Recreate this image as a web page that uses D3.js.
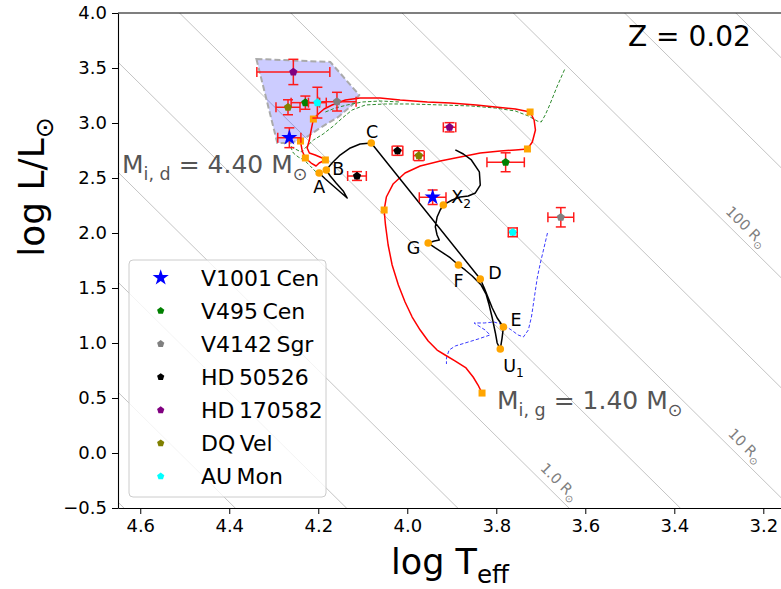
<!DOCTYPE html>
<html>
<head>
<meta charset="utf-8">
<script src="https://cdn.jsdelivr.net/npm/d3@7"></script>
<style>
  body { margin: 0; background: #fff; }
  text { font-family: "DejaVu Sans", sans-serif; }
</style>
</head>
<body>
<svg id="chart" width="781" height="589"></svg>
<script>
// ---------------- data ----------------
const systems = ["V1001\u2009Cen", "V495\u2009Cen", "V4142\u2009Sgr", "HD\u200950526", "HD\u2009170582", "DQ\u2009Vel", "AU\u2009Mon"];

// hot, mass-gaining components
const gainerLogT = [4.265, 4.229, 4.158, 4.113, 4.256, 4.268, 4.202];
const gainerLogL = [2.866, 3.185, 3.194, 2.518, 3.464, 3.143, 3.185];
const gainerErrT = [0.026, 0.032, 0.043, 0.021, 0.082, 0.027, 0.020];
const gainerErrL = [0.090, 0.060, 0.085, 0.040, 0.115, 0.068, 0.140];

// cool, mass-losing components
const donorLogT = [3.943, 3.779, 3.655, 4.022, 3.905, 3.974, 3.763];
const donorLogL = [2.325, 2.643, 2.143, 2.748, 2.961, 2.703, 2.006];
const donorErrT = [0.030, 0.042, 0.029, 0.012, 0.014, 0.012, 0.010];
const donorErrL = [0.066, 0.086, 0.088, 0.042, 0.042, 0.045, 0.040];

// donor track (M_i,d = 4.40)
const donorTrackT = [4.198,4.184,4.166,4.148,4.135,4.144,4.160,4.173,4.182,4.169,4.151,4.128,4.106,4.081,3.836,3.827,3.818,3.809,3.798,3.784,3.787,3.791,3.798,3.802,3.809,3.816,3.823,3.834,3.854,3.870,3.885,3.903,3.919,3.937,3.953,3.939,3.928,3.933,3.937,3.933,3.926,3.919,3.899,3.881,3.863,3.847,3.836,3.838,3.856,3.874,3.892];
const donorTrackL = [2.545,2.491,2.427,2.364,2.318,2.382,2.455,2.518,2.573,2.636,2.709,2.773,2.809,2.818,1.582,1.500,1.409,1.318,1.227,1.145,1.045,0.945,1.000,1.091,1.227,1.345,1.445,1.527,1.609,1.664,1.709,1.773,1.818,1.864,1.909,1.927,1.936,1.982,2.055,2.145,2.209,2.255,2.300,2.327,2.336,2.364,2.436,2.555,2.664,2.718,2.755];

// labelled stages on the donor track
const stageNames = ["A", "B", "C", "D", "E", "U1", "F", "G", "X2"];
const stageT = [4.198, 4.182, 4.081, 3.836, 3.784, 3.791, 3.885, 3.953, 3.919];
const stageL = [2.545, 2.573, 2.818, 1.582, 1.145, 0.945, 1.709, 1.909, 2.255];

// gainer track (M_i,g = 1.40)
const gainerTrackT = [3.832,3.841,3.852,3.868,3.892,3.915,3.933,3.953,3.971,3.989,4.005,4.020,4.034,4.043,4.049,4.052,4.047,4.032,4.005,3.971,3.926,3.881,3.836,3.791,3.757,3.730,3.719,3.712,3.715,3.724,3.757,3.802,3.845,3.903,3.955,4.016,4.061,4.106,4.139,4.169,4.187,4.200,4.211,4.216,4.220,4.225,4.220,4.207,4.191,4.184,4.198,4.205,4.216,4.229,4.236,4.240];
const gainerTrackL = [0.545,0.618,0.691,0.773,0.836,0.891,0.936,1.018,1.118,1.236,1.373,1.527,1.709,1.891,2.073,2.209,2.327,2.445,2.545,2.609,2.655,2.691,2.727,2.745,2.755,2.764,2.827,2.936,3.027,3.100,3.127,3.145,3.164,3.182,3.191,3.209,3.227,3.227,3.209,3.164,3.127,3.082,3.036,2.936,2.845,2.773,2.727,2.709,2.682,2.664,2.636,2.609,2.636,2.682,2.745,2.836];
const gainerMarkT = [3.832, 4.052, 3.730, 3.724, 4.211, 4.184, 4.229, 4.240];
const gainerMarkL = [0.545, 2.209, 2.764, 3.100, 3.036, 2.664, 2.682, 2.836];

// single-star comparison tracks
const singleHighT = [4.205,4.218,4.232,4.245,4.256,4.263,4.252,4.238,4.227,4.211,4.189,4.166,4.146,4.124,4.094,4.049,3.993,3.926,3.858,3.802,3.757,3.728,3.708,3.699,3.690,3.681,3.672,3.663,3.654,3.645];
const singleHighL = [2.555,2.609,2.664,2.691,2.727,2.791,2.764,2.736,2.782,2.845,2.900,2.973,3.045,3.118,3.164,3.173,3.173,3.164,3.155,3.136,3.109,3.064,3.018,3.009,3.073,3.155,3.245,3.336,3.418,3.500];
const singleHighLoopT = [4.184, 4.162, 4.135, 4.101, 4.061, 4.016];
const singleHighLoopL = [3.100, 3.136, 3.164, 3.191, 3.200, 3.191];
const singleLowT = [3.685,3.694,3.701,3.708,3.712,3.717,3.721,3.728,3.739,3.751,3.766,3.784,3.805,3.827,3.850,3.825,3.814,3.841,3.870,3.892,3.906,3.912,3.912];
const singleLowL = [2.000,1.845,1.727,1.591,1.482,1.345,1.236,1.118,1.055,1.073,1.118,1.164,1.191,1.182,1.182,1.118,1.073,1.036,1.000,0.973,0.936,0.864,0.809];

// region spanned by the observed gainers
const regionT = [4.339, 4.173, 4.108, 4.124, 4.155, 4.196, 4.229, 4.263, 4.292];
const regionL = [3.582, 3.555, 3.255, 3.164, 3.055, 2.955, 2.864, 2.818, 2.818];

// constant-radius lines (log R/Rsun), labelled ones
const radiusLogR = [-2, -1.5, -1, -0.5, 0, 0.5, 1, 1.5, 2, 2.5, 3];
const radiusLabels = ["1.0", "10", "100"];
const radiusLabelLogR = [0, 1, 2];
const radiusLabelLogT = [3.677, 3.259, 3.257];
const logTsun = 3.7617;

const xTicks = [4.6, 4.4, 4.2, 4.0, 3.8, 3.6, 3.4, 3.2];
const yTicks = [-0.5, 0.0, 0.5, 1.0, 1.5, 2.0, 2.5, 3.0, 3.5, 4.0];

// ---------------- layout ----------------
const plot = { left: 118, right: 782, top: 13, bottom: 508 };
const colors = ["#0000ff", "#008000", "#808080", "#000000", "#800080", "#808000", "#00ffff"];

const svg = d3.select("#chart");
const x = d3.scaleLinear().domain([4.65, 3.158]).range([plot.left, plot.right]);
const y = d3.scaleLinear().domain([-0.5, 4.0]).range([plot.bottom, plot.top]);

svg.append("defs").append("clipPath").attr("id", "plotArea")
  .append("rect").attr("x", plot.left).attr("y", plot.top)
  .attr("width", plot.right - plot.left).attr("height", plot.bottom - plot.top);

const g = svg.append("g").attr("clip-path", "url(#plotArea)");
const line = d3.line().x(d => x(d[0])).y(d => y(d[1]));
const zip = (a, b) => a.map((v, i) => [v, b[i]]);

// text with subscripts: parts = [{t, sub}]
function rich(sel, parts, size) {
  let shift = 0;
  parts.forEach(p => {
    const target = p.sub ? size * 0.26 : 0;
    const ts = sel.append("tspan").text(p.t).attr("dy", target - shift);
    if (p.sub) ts.attr("font-size", size * 0.7);
    shift = target;
  });
  return sel;
}

// constant radius lines
radiusLogR.forEach(r => {
  const pts = [4.9, 2.9].map(t => [t, 2 * r + 4 * (t - logTsun)]);
  g.append("path").attr("d", line(pts)).attr("fill", "none")
    .attr("stroke", "#c4c4c4").attr("stroke-width", 1);
});
const angle = Math.atan2(y(0) - y(4), x(3.0) - x(4.0)) * 180 / Math.PI;
radiusLabels.forEach((lab, i) => {
  const t = radiusLabelLogT[i];
  const l = 2 * radiusLabelLogR[i] + 4 * (t - logTsun);
  const txt = svg.append("text")
    .attr("transform", `translate(${x(t)},${y(l)}) rotate(${angle})`)
    .attr("y", -7).attr("text-anchor", "middle")
    .attr("font-size", 14.5).attr("fill", "#808080");
  rich(txt, [{ t: lab + " R" }, { t: "\u2299", sub: true }], 14.5);
});

// region of observed gainers
g.append("path").attr("d", line(zip(regionT, regionL)) + "Z")
  .attr("fill", "rgba(0,0,255,0.2)")
  .attr("stroke", "#aaaaaa").attr("stroke-width", 2).attr("stroke-dasharray", "6,3");

// single-star tracks
g.append("path").attr("d", line(zip(singleHighT, singleHighL))).attr("fill", "none")
  .attr("stroke", "#2e8b2e").attr("stroke-width", 1).attr("stroke-dasharray", "3.5,2");
g.append("path").attr("d", line(zip(singleHighLoopT, singleHighLoopL))).attr("fill", "none")
  .attr("stroke", "#2e8b2e").attr("stroke-width", 1).attr("stroke-dasharray", "3.5,2");
g.append("path").attr("d", line(zip(singleLowT, singleLowL))).attr("fill", "none")
  .attr("stroke", "#3b3bff").attr("stroke-width", 1).attr("stroke-dasharray", "3.5,2");

// binary tracks
g.append("path").attr("d", line(zip(gainerTrackT, gainerTrackL))).attr("fill", "none")
  .attr("stroke", "#ff0000").attr("stroke-width", 1.5).attr("stroke-linejoin", "round");
g.append("path").attr("d", line(zip(donorTrackT, donorTrackL))).attr("fill", "none")
  .attr("stroke", "#000").attr("stroke-width", 1.5).attr("stroke-linejoin", "round");

g.selectAll("rect.gmark").data(zip(gainerMarkT, gainerMarkL)).join("rect")
  .attr("x", d => x(d[0]) - 3.5).attr("y", d => y(d[1]) - 3.5)
  .attr("width", 7).attr("height", 7).attr("fill", "#ffa500");
g.selectAll("circle.stage").data(zip(stageT, stageL)).join("circle")
  .attr("cx", d => x(d[0])).attr("cy", d => y(d[1])).attr("r", 3.8).attr("fill", "#ffa500");

// stage labels
const stageOffsets = {
  A: [0, 20, "middle"], B: [6, 5, "start"], C: [1, -5, "middle"], D: [8, 0, "start"],
  E: [7, -1, "start"], U1: [3, 23, "start"], F: [0, 22, "middle"], G: [-8, 11, "end"], X2: [8, -2, "start"]
};
stageNames.forEach((nm, i) => {
  const o = stageOffsets[nm];
  const txt = svg.append("text").attr("x", x(stageT[i]) + o[0]).attr("y", y(stageL[i]) + o[1])
    .attr("text-anchor", o[2]).attr("font-size", 17.5).attr("fill", "#000");
  if (nm.length > 1) rich(txt, [{ t: nm[0] }, { t: nm.slice(1), sub: true }], 17.5);
  else txt.text(nm);
});

// markers
function pentagon(r) {
  const p = d3.range(5).map(k => {
    const a = -Math.PI / 2 + k * 2 * Math.PI / 5;
    return [r * Math.cos(a), r * Math.sin(a)];
  });
  return "M" + p.join("L") + "Z";
}
function star(r) {
  const p = d3.range(10).map(k => {
    const a = -Math.PI / 2 + k * Math.PI / 5;
    const rr = k % 2 ? r * 0.382 : r;
    return [rr * Math.cos(a), rr * Math.sin(a)];
  });
  return "M" + p.join("L") + "Z";
}

function errorPoint(t, l, et, el, color, isStar) {
  const cx = x(t), cy = y(l), cap = 5;
  const eb = svg.append("g").attr("stroke", "#ff1a1a").attr("stroke-width", 1.5).attr("fill", "none");
  const x0 = x(t + et), x1 = x(t - et), y0 = y(l + el), y1 = y(l - el);
  eb.append("line").attr("x1", x0).attr("x2", x1).attr("y1", cy).attr("y2", cy);
  eb.append("line").attr("x1", cx).attr("x2", cx).attr("y1", y0).attr("y2", y1);
  [x0, x1].forEach(xx => eb.append("line").attr("x1", xx).attr("x2", xx).attr("y1", cy - cap).attr("y2", cy + cap));
  [y0, y1].forEach(yy => eb.append("line").attr("x1", cx - cap).attr("x2", cx + cap).attr("y1", yy).attr("y2", yy));
  svg.append("path").attr("d", isStar ? star(8.5) : pentagon(4.3))
    .attr("transform", `translate(${cx},${cy})`).attr("fill", color);
}
systems.forEach((s, i) => {
  errorPoint(gainerLogT[i], gainerLogL[i], gainerErrT[i], gainerErrL[i], colors[i], i === 0);
  errorPoint(donorLogT[i], donorLogL[i], donorErrT[i], donorErrL[i], colors[i], i === 0);
});

// annotations
rich(svg.append("text").attr("x", 122).attr("y", 173).attr("font-size", 25).attr("fill", "#555"),
  [{ t: "M" }, { t: "i, d", sub: true }, { t: " = 4.40 M" }, { t: "\u2299", sub: true }], 25);
rich(svg.append("text").attr("x", 497).attr("y", 409).attr("font-size", 25).attr("fill", "#555"),
  [{ t: "M" }, { t: "i, g", sub: true }, { t: " = 1.40 M" }, { t: "\u2299", sub: true }], 25);
svg.append("text").attr("x", 628).attr("y", 46).attr("font-size", 28).attr("fill", "#000").text("Z = 0.02");

// axes
const xAxis = d3.axisBottom(x).tickValues(xTicks).tickFormat(d3.format(".1f")).tickSize(6).tickPadding(5).tickSizeOuter(0);
const yAxis = d3.axisLeft(y).tickValues(yTicks).tickFormat(d3.format(".1f")).tickSize(6).tickPadding(5).tickSizeOuter(0);
const gx = svg.append("g").attr("transform", `translate(0,${plot.bottom})`).call(xAxis);
const gy = svg.append("g").attr("transform", `translate(${plot.left},0)`).call(yAxis);
[gx, gy].forEach(a => {
  a.selectAll("text").attr("font-size", 18).attr("font-family", "DejaVu Sans").attr("fill", "#000");
  a.selectAll("line").attr("stroke", "#000").attr("stroke-width", 1);
  a.select(".domain").attr("stroke", "#000").attr("stroke-width", 1.1);
});
svg.append("line").attr("x1", plot.left).attr("x2", plot.right).attr("y1", plot.top).attr("y2", plot.top)
  .attr("stroke", "#000").attr("stroke-width", 1.1);
svg.append("line").attr("x1", plot.right).attr("x2", plot.right).attr("y1", plot.top).attr("y2", plot.bottom)
  .attr("stroke", "#000").attr("stroke-width", 1.1);

rich(svg.append("text").attr("x", 450).attr("y", 574).attr("text-anchor", "middle").attr("font-size", 35),
  [{ t: "log T" }, { t: "eff", sub: true }], 35);
rich(svg.append("text").attr("transform", "translate(44,187) rotate(-90)").attr("text-anchor", "middle").attr("font-size", 36),
  [{ t: "log L/L" }, { t: "\u2299", sub: true }], 36);

// legend
const lg = svg.append("g");
lg.append("rect").attr("x", 129).attr("y", 260).attr("width", 197).attr("height", 237).attr("rx", 4)
  .attr("fill", "rgba(255,255,255,0.8)").attr("stroke", "#cccccc").attr("stroke-width", 1);
systems.forEach((s, i) => {
  const cy = 277.7 + i * 33.1;
  lg.append("path").attr("d", i === 0 ? star(8.5) : pentagon(3.8))
    .attr("transform", `translate(160.7,${cy})`).attr("fill", colors[i]);
  lg.append("text").attr("x", 201).attr("y", cy + 8).attr("font-size", 22).attr("fill", "#000").text(s);
});
</script>
</body>
</html>
